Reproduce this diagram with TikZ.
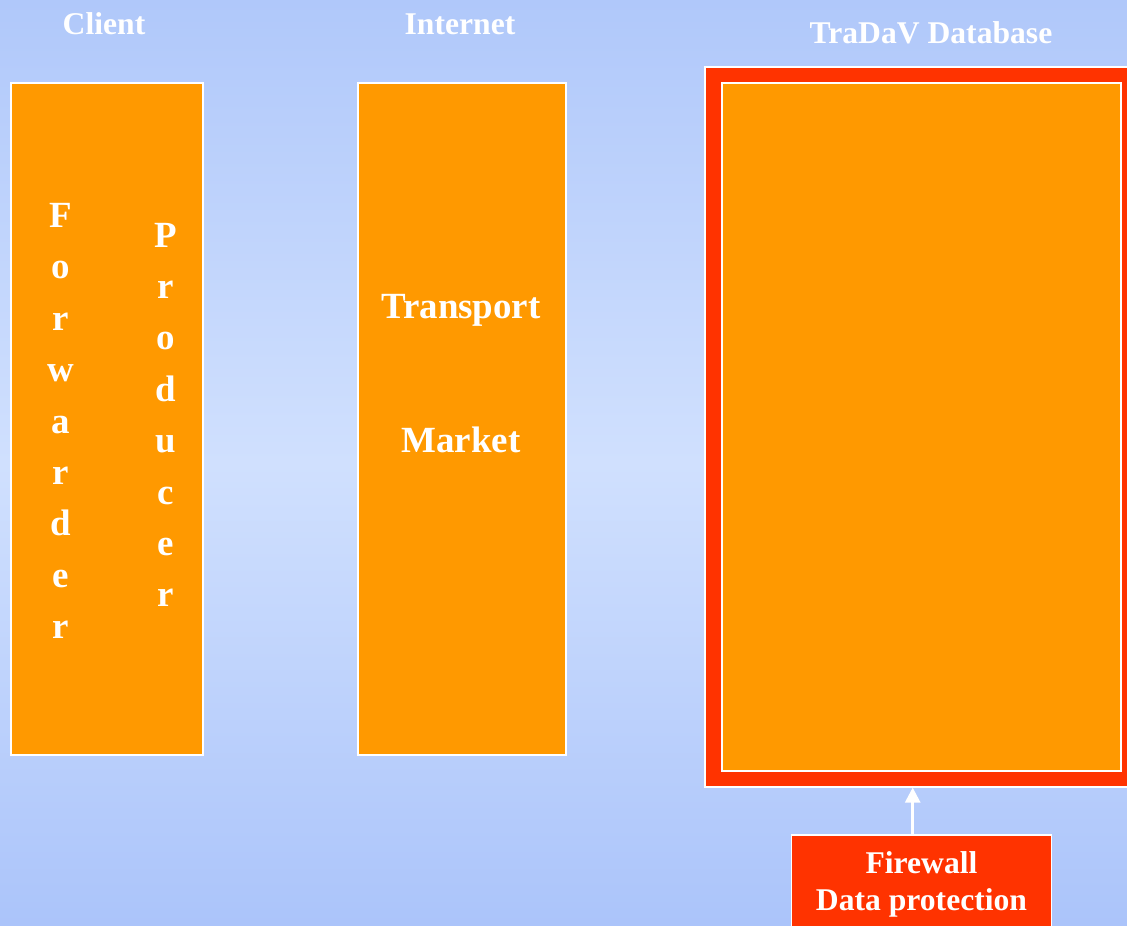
\documentclass[tikz,border=0pt]{standalone}
\usepackage{fontspec}
\setmainfont{Liberation Serif}
\usetikzlibrary{arrows.meta}
\definecolor{panelorange}{HTML}{FF9900}
\definecolor{wallred}{HTML}{FF3300}
\definecolor{skytop}{HTML}{B0C8FA}
\definecolor{skymid}{HTML}{D0E0FE}
\definecolor{skybot}{HTML}{ABC4FA}

\begin{document}
\begin{tikzpicture}[x=0.02cm,y=-0.02cm]
\tikzstyle{panel}=[rectangle,draw=white,line width=0.75pt,fill=panelorange,inner sep=0pt]
\tikzstyle{wall}=[rectangle,draw=white,line width=0.75pt,fill=wallred,inner sep=0pt]
\tikzstyle{header}=[text=white,font=\bfseries\fontsize{18}{21}\selectfont,anchor=base]
\tikzstyle{label}=[text=white,font=\bfseries\fontsize{21}{25}\selectfont,anchor=base]
\tikzstyle{letters}=[text=white,font=\bfseries\fontsize{21}{29.25}\selectfont,align=center]
\tikzstyle{wire}=[draw=white,line width=1.5pt,-{Triangle[length=8.5pt,width=8.5pt]}]
\clip (0,0) rectangle (1127,926);
\shade[top color=skytop,bottom color=skybot,middle color=skymid] (0,0) rectangle (1127,926);
% column titles
\node [header] (client) at (104,35) {Client};
\node [header] (internet) at (460,35) {Internet};
\node [header] (tradav) at (931,44) {TraDaV Database};
% client column
\node [panel,minimum width=3.84cm,minimum height=13.44cm] (clientbox) at (107,419) {};
\node [letters] (forwarder) at (61,421) {F\\o\\r\\w\\a\\r\\d\\e\\r};
\node [letters] (producer) at (166,415) {P\\r\\o\\d\\u\\c\\e\\r};
% internet column
\node [panel,minimum width=4.16cm,minimum height=13.44cm] (internetbox) at (462,419) {};
\node [label] (transport) at (461,318) {Transport};
\node [label] (market) at (461,452) {Market};
% database
\node [wall,minimum width=8.66cm,minimum height=14.4cm] (dbwall) at (921.5,427) {};
\node [panel,minimum width=7.98cm,minimum height=13.76cm] (dbbox) at (921.5,427) {};
\node [wall,minimum width=5.2cm,minimum height=1.96cm,align=center,text=white,
  font=\bfseries\fontsize{18}{21}\selectfont] (firewall) at (921.5,884) {Firewall\\Data protection};
\draw [wire] ([xshift=-0.176cm]firewall.north) -- ([xshift=-0.176cm]dbwall.south);
\end{tikzpicture}
\end{document}
